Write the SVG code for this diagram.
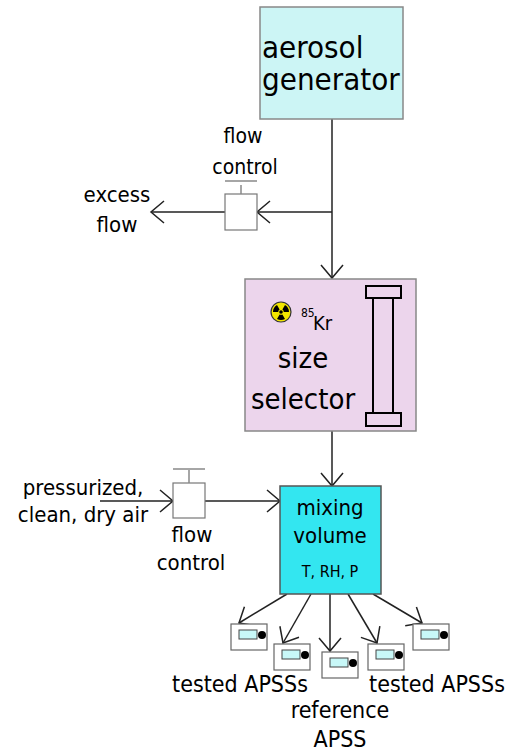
<svg xmlns="http://www.w3.org/2000/svg" xmlns:xlink="http://www.w3.org/1999/xlink" width="507" height="753" viewBox="0 0 507 753">
<style>
text{font-family:"DejaVu Sans Condensed","DejaVu Sans",sans-serif;fill:#000}
.m{text-anchor:middle}
.ln{fill:none;stroke:#222;stroke-width:1.5}
.vb{fill:#fff;stroke:#777;stroke-width:1.2}
.vs{stroke:#888;stroke-width:1.5}
.col{fill:#ecd5ec;stroke:#000;stroke-width:2}
</style>
<defs>
<marker id="ah" viewBox="-15 -13 17 26" refX="0" refY="0" markerWidth="17" markerHeight="26" markerUnits="userSpaceOnUse" orient="auto" overflow="visible">
<path d="M-13,-11 L0,0 L-13,11" fill="none" stroke="#222" stroke-width="1.5"/>
</marker>
<g id="apss">
<rect x="0" y="0" width="36" height="26" fill="#fff" stroke="#666" stroke-width="1.2"/>
<rect x="8" y="6" width="18" height="9" fill="#c8f8f8" stroke="#444" stroke-width="1"/>
<circle cx="31" cy="11" r="4" fill="#000"/>
</g>
</defs>
<rect width="507" height="753" fill="#fff"/>
<g id="connectors">
<path class="ln" d="M332,119 V278" marker-end="url(#ah)"/>
<path class="ln" d="M332,212 H257" marker-end="url(#ah)"/>
<path class="ln" d="M225,212 H151" marker-end="url(#ah)"/>
<path class="ln" d="M332,431 V486" marker-end="url(#ah)"/>
<path class="ln" d="M100,501 H173" marker-end="url(#ah)"/>
<path class="ln" d="M205,501 H280" marker-end="url(#ah)"/>
<path class="ln" d="M287,594 L239,623" marker-end="url(#ah)"/>
<path class="ln" d="M311,594 L283,643" marker-end="url(#ah)"/>
<path class="ln" d="M330,594 L330,651" marker-end="url(#ah)"/>
<path class="ln" d="M348,594 L377,643" marker-end="url(#ah)"/>
<path class="ln" d="M373,594 L422,623" marker-end="url(#ah)"/>
</g>
<g id="aerosol-generator">
<rect x="260" y="7" width="143" height="112" fill="#ccf5f5" stroke="#888" stroke-width="1.5"/>
<text x="262" y="58" font-size="31">aerosol</text>
<text x="262" y="90" font-size="31">generator</text>
</g>
<g id="flow-control-1">
<rect class="vb" x="225" y="194" width="32" height="36"/>
<line class="vs" x1="241" y1="185" x2="241" y2="194"/>
<line class="vs" x1="225" y1="181" x2="257" y2="181"/>
<text class="m" x="243" y="143" font-size="21">flow</text>
<text class="m" x="245" y="174" font-size="21">control</text>
</g>
<g id="excess-flow">
<text class="m" x="117" y="202" font-size="22">excess</text>
<text class="m" x="117" y="232" font-size="22">flow</text>
</g>
<g id="size-selector">
<rect x="245" y="279" width="171" height="152" fill="#ecd5ec" stroke="#888" stroke-width="1.5"/>
<rect class="col" x="373" y="298" width="20" height="115"/>
<rect class="col" x="366" y="286" width="35" height="12"/>
<rect class="col" x="366" y="413" width="35" height="13"/>
<circle cx="281" cy="312" r="10" fill="#f2e600" stroke="#333" stroke-width="1.2"/>
<path fill="#000" d="M282.4,314.42 L285,318.93 A8,8 0 0 1 277,318.93 L279.6,314.42 A2.8,2.8 0 0 0 282.4,314.42 Z M278.2,312 L273,312 A8,8 0 0 1 277,305.07 L279.6,309.58 A2.8,2.8 0 0 0 278.2,312 Z M282.4,309.58 L285,305.07 A8,8 0 0 1 289,312 L283.8,312 A2.8,2.8 0 0 0 282.4,309.58 Z"/>
<circle cx="281" cy="312" r="1.8" fill="#000"/>
<text x="301" y="317" font-size="12">85</text>
<text x="313" y="330" font-size="20">Kr</text>
<text class="m" x="303" y="368" font-size="29">size</text>
<text class="m" x="303" y="409" font-size="29">selector</text>
</g>
<g id="air-source">
<text class="m" x="83" y="495" font-size="22">pressurized,</text>
<text class="m" x="83" y="522" font-size="22">clean, dry air</text>
</g>
<g id="flow-control-2">
<rect class="vb" x="173" y="483" width="32" height="35"/>
<line class="vs" x1="189" y1="470" x2="189" y2="483"/>
<line class="vs" x1="173" y1="469" x2="205" y2="469"/>
<text class="m" x="192" y="542" font-size="22">flow</text>
<text class="m" x="191" y="570" font-size="22">control</text>
</g>
<g id="mixing-volume">
<rect x="280" y="486" width="101" height="108" fill="#33e6f0" stroke="#555" stroke-width="1.5"/>
<text class="m" x="330" y="515" font-size="22">mixing</text>
<text class="m" x="330" y="543" font-size="22">volume</text>
<text class="m" x="330" y="577" font-size="16">T, RH, P</text>
</g>
<g id="apss-1"><use xlink:href="#apss" x="231" y="624"/></g>
<g id="apss-2"><use xlink:href="#apss" x="274" y="644"/></g>
<g id="apss-ref"><use xlink:href="#apss" x="322" y="652"/></g>
<g id="apss-4"><use xlink:href="#apss" x="368" y="644"/></g>
<g id="apss-5"><use xlink:href="#apss" x="413" y="624"/></g>
<g id="labels">
<text class="m" x="240" y="692" font-size="23">tested APSSs</text>
<text class="m" x="437" y="692" font-size="23">tested APSSs</text>
<text class="m" x="340" y="718" font-size="23">reference</text>
<text class="m" x="340" y="747" font-size="23">APSS</text>
</g>
</svg>
